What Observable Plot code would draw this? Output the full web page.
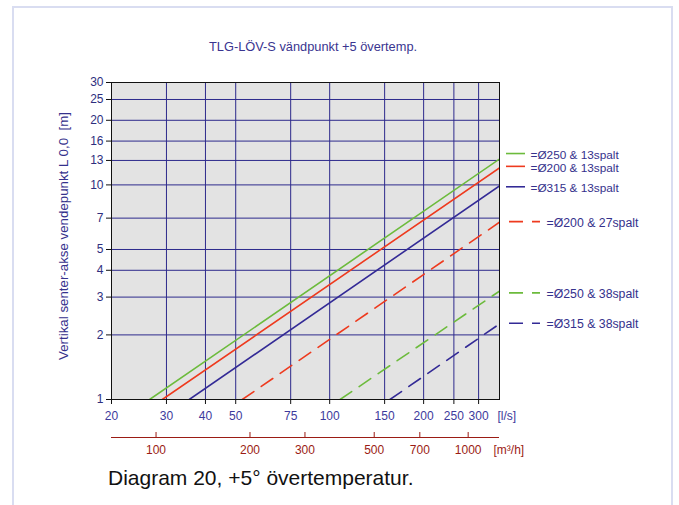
<!DOCTYPE html>
<html><head><meta charset="utf-8">
<script src="https://cdn.jsdelivr.net/npm/d3@7"></script>
<script src="https://cdn.jsdelivr.net/npm/@observablehq/plot@0.6"></script>
<style>
body{margin:0;background:#fff;}
#wrap{position:relative;width:679px;height:505px;overflow:hidden;font-family:"Liberation Sans",Arial,sans-serif;background:#fff;}
#border{position:absolute;left:12px;top:6px;width:661px;height:530px;border:2.5px solid #d9ddf1;box-sizing:border-box;}
#title{position:absolute;left:209px;top:39px;font-size:12.8px;color:#3a3590;white-space:nowrap;}
#caption{position:absolute;left:108px;top:466px;font-size:21px;color:#111;white-space:nowrap;}
#chart{position:absolute;left:0;top:0;}
</style>
</head><body>
<div id="wrap">
  <div id="border"></div>
  <div id="chart"></div>
  <div id="title">TLG-LÖV-S vändpunkt +5 övertemp.</div>
  <div id="caption">Diagram 20, +5° övertemperatur.</div>
</div>
<script>
// ---- data ----
const seriesNames = ["=Ø250 & 13spalt", "=Ø200 & 13spalt", "=Ø315 & 13spalt", "=Ø200 & 27spalt", "=Ø250 & 38spalt", "=Ø315 & 38spalt"];
const seriesColors = ["#6cbb3c", "#ee3a1e", "#332a96", "#ee3a1e", "#6cbb3c", "#332a96"];
const seriesDashed = [false, false, false, true, true, true];
const xStart = [26.5, 29.1, 35.5, 52.5, 108, 156];   // l/s where the line crosses 1 m
const yStart = [1, 1, 1, 1, 1, 1];
const xEnd = [350, 350, 350, 350, 350, 350];        // l/s at right edge
const yEnd = [13.2, 12.0, 9.9, 6.7, 3.2, 2.25];      // m at right edge
const legendY = [14.0, 12.2, 9.8, 6.74, 3.14, 2.265]; // vertical position of legend entries (m)
const yTicks = [1, 2, 3, 4, 5, 7, 10, 13, 16, 20, 25, 30];
const xTicks = [20, 30, 40, 50, 75, 100, 150, 200, 250, 300];
const xGrid = [30, 40, 50, 75, 100, 150, 200, 250, 300];
const m3hTicks = [100, 200, 300, 500, 700, 1000];
const xDomain = [20, 350];
const yDomain = [1, 30];

const rows = [];
seriesNames.forEach((name, i) => {
  rows.push({name, i, x: xStart[i], y: yStart[i]});
  rows.push({name, i, x: xEnd[i], y: yEnd[i]});
});
const legend = seriesNames.map((name, i) => ({name, i, y: legendY[i], color: seriesColors[i], dashed: seriesDashed[i]}));

const W = 679, H = 470, mL = 111, mR = 180, mT = 82, mB = 71;
const frameW = W - mL - mR, frameH = H - mT - mB;
const blueText = "#35318c", gridC = "#2d2a8c", redAxis = "#9b1c14", xLab = "#3d3a9c";
const dash = "14,9";

const lineMarks = seriesNames.map((name, i) =>
  Plot.line(rows.filter(r => r.i === i), {x: "x", y: "y", stroke: seriesColors[i], strokeWidth: 1.6,
    strokeDasharray: seriesDashed[i] ? dash : null, clip: true}));

const chart = Plot.plot({
  width: W, height: H,
  marginLeft: mL, marginRight: mR, marginTop: mT, marginBottom: mB,
  style: {fontFamily: "Liberation Sans, Arial, sans-serif", fontSize: "12px", background: "transparent", overflow: "visible"},
  x: {type: "log", domain: xDomain, axis: null},
  y: {type: "log", domain: yDomain, axis: null},
  marks: [
    Plot.frame({fill: "#e3e3e3"}),
    Plot.gridY(yTicks.slice(1, -1), {stroke: gridC, strokeOpacity: 1, strokeWidth: 1}),
    Plot.gridX(xGrid, {stroke: gridC, strokeOpacity: 1, strokeWidth: 1}),
    ...lineMarks,
    Plot.frame({stroke: "#111", strokeWidth: 1}),
    Plot.axisY(yTicks, {tickSize: 5, tickPadding: 3, stroke: "#111", fill: "#2e2e7e", tickFormat: d => String(d), fontSize: 12, label: null}),
    // primary l/s axis
    Plot.tickX(xTicks, {x: d => d, dy: 5, insetTop: frameH - 5, stroke: "#111", strokeWidth: 1}),
    Plot.text(xTicks, {x: d => d, text: d => String(d), frameAnchor: "bottom", dy: 12, lineAnchor: "top", fill: xLab, fontSize: 12}),
    Plot.text(["[l/s]"], {frameAnchor: "bottom-right", dx: -2, dy: 12, textAnchor: "start", lineAnchor: "top", fill: xLab, fontSize: 12}),
    // secondary m³/h axis
    Plot.ruleY([yDomain[0]], {dy: 38, stroke: redAxis, strokeWidth: 1}),
    Plot.tickX(m3hTicks, {x: d => d / 3.6, dy: 38, insetTop: frameH - 5, stroke: redAxis, strokeWidth: 1}),
    Plot.text(m3hTicks, {x: d => d / 3.6, text: d => String(d), frameAnchor: "bottom", dy: 46, lineAnchor: "top", fill: redAxis, fontSize: 12}),
    Plot.text(["[m³/h]"], {frameAnchor: "bottom-right", dx: -6, dy: 46, textAnchor: "start", lineAnchor: "top", fill: redAxis, fontSize: 12}),
    // y label
    Plot.text(["Vertikal senter-akse vendepunkt L 0,0  [m]"], {frameAnchor: "left", dx: -48, dy: -5, rotate: -90, textAnchor: "middle", lineAnchor: "middle", fill: blueText, fontSize: 13.3}),
    // legend
    Plot.tickY(legend.filter(d => !d.dashed), {y: "y", stroke: "color", strokeWidth: 1.6, insetLeft: frameW - 19, dx: 26}),
    Plot.tickY(legend.filter(d => d.dashed), {y: "y", stroke: "color", strokeWidth: 1.6, insetLeft: frameW - 31, dx: 41, strokeDasharray: dash}),
    Plot.text(legend.filter(d => !d.dashed), {y: "y", text: "name", frameAnchor: "right", dx: 31, dy: 1.6, textAnchor: "start", fill: blueText, fontSize: 11.8}),
    Plot.text(legend.filter(d => d.dashed), {y: "y", text: "name", frameAnchor: "right", dx: 47, dy: 1, textAnchor: "start", fill: blueText, fontSize: 12.3})
  ]
});
document.getElementById("chart").appendChild(chart);
</script>
</body></html>
